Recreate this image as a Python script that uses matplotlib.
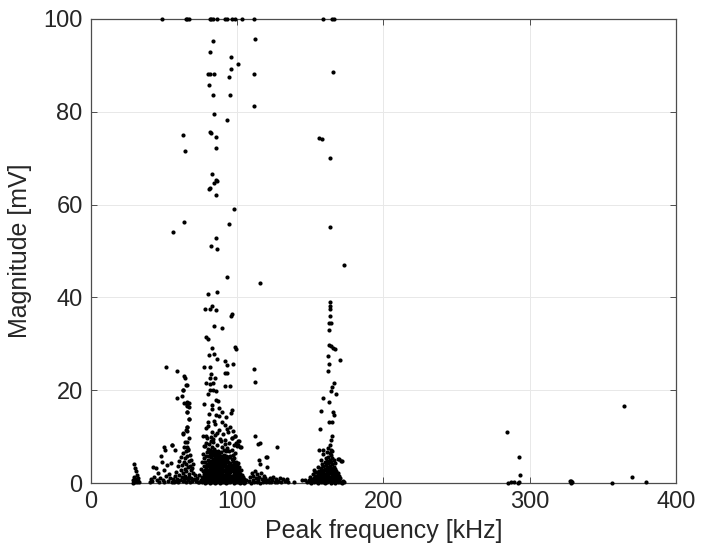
import matplotlib
matplotlib.use('Agg')
import matplotlib.pyplot as plt
import numpy as np

# figure parameters
FIG_SIZE = (7.03, 5.52)
LABEL_SIZE = 18
TICK_SIZE = 17
DOT_SIZE = 3.0

plt.rcParams['font.family'] = ['Liberation Sans', 'DejaVu Sans']

# peaks clipped at the 100 mV ceiling (frequency in kHz)
clipped_freq = [48.4, 64.8, 66.0, 67.2, 81.2, 82.4, 83.6, 86.3, 91.9, 93.2,
                96.6, 98.2, 103.2, 111.8, 159.0, 164.5, 166.0]
clipped_mag = [100.0] * len(clipped_freq)

# isolated peaks above the dense floor (freq kHz, magnitude mV)
upper_pts = [
    (112.4, 95.7), (81.2, 92.8), (83.6, 95.2), (95.5, 91.8), (100.6, 90.4),
    (95.5, 89.2), (80.0, 88.1), (81.2, 88.1), (84.2, 88.2), (94.2, 87.6),
    (111.5, 88.2), (165.5, 88.6), (80.6, 85.8), (83.3, 83.7), (94.8, 83.7),
    (111.5, 81.2), (84.2, 79.5), (93.3, 78.3), (63.0, 75.0), (81.2, 75.6),
    (82.4, 75.5), (85.5, 74.5), (155.8, 74.4), (158.2, 74.2), (85.2, 72.3),
    (64.2, 71.5), (163.3, 70.0), (82.7, 66.5), (80.6, 63.4), (81.2, 63.6),
    (84.2, 64.7), (85.5, 65.2), (86.0, 65.1), (85.2, 62.0), (97.9, 59.0),
    (63.9, 56.2), (94.5, 55.8), (56.4, 54.2), (163.3, 55.1), (85.5, 52.7),
    (81.8, 51.1), (86.0, 50.5), (172.7, 47.0), (93.3, 44.5), (115.8, 43.1),
    (80.0, 40.7), (86.0, 41.2), (163.3, 38.9), (163.6, 38.2), (163.6, 37.4),
    (83.0, 38.1), (78.2, 37.4), (81.2, 37.6), (85.5, 37.3), (96.4, 36.5),
    (95.5, 36.0), (163.6, 36.0), (84.2, 33.8), (89.4, 33.5), (163.0, 34.5),
    (164.2, 34.4), (163.0, 33.0), (78.8, 31.5), (80.0, 31.1), (98.8, 29.4),
    (99.4, 28.9), (163.0, 29.8), (164.2, 29.6), (165.5, 29.1), (166.7, 28.8),
    (83.0, 29.2), (84.2, 27.9), (80.9, 27.5), (86.0, 26.8), (170.6, 26.6),
    (162.4, 27.4), (91.8, 26.3), (92.7, 25.5), (97.0, 25.6), (51.2, 25.0),
    (77.0, 25.0), (81.5, 25.1), (111.5, 24.5), (163.0, 25.6), (59.1, 24.2),
    (162.4, 24.1), (63.6, 23.0), (91.8, 23.6), (93.3, 23.7), (82.4, 23.4),
    (81.2, 22.6), (84.8, 22.6), (78.8, 21.5), (81.2, 21.4), (83.6, 21.6),
    (65.2, 21.2), (112.1, 21.7), (166.0, 21.5), (91.8, 21.0), (94.8, 20.9),
    (164.5, 20.7), (63.0, 20.1), (81.2, 20.0), (83.6, 20.1), (85.5, 19.8),
    (163.9, 19.8), (167.3, 19.2), (159.0, 18.4), (58.5, 18.3), (62.4, 18.8),
    (79.7, 19.2), (85.5, 17.9), (86.7, 17.7), (65.5, 17.5), (67.0, 17.3),
    (163.0, 17.5), (77.0, 17.1), (66.0, 16.5), (82.7, 16.9), (87.3, 16.2),
    (96.4, 15.8), (95.5, 15.0), (157.6, 15.6), (165.5, 15.4), (166.0, 14.6),
    (66.0, 15.4), (85.8, 14.6), (87.3, 14.4), (66.7, 13.9), (163.0, 13.1),
    (164.8, 13.1), (79.7, 13.1), (84.2, 13.4), (89.4, 13.1), (66.0, 12.0),
    (65.5, 11.2), (91.8, 12.4), (93.3, 11.6), (80.0, 12.2), (284.2, 11.0),
    (156.4, 11.6), (112.1, 10.1), (62.7, 10.7), (164.5, 10.1), (76.7, 10.2),
    (78.8, 10.1), (83.6, 9.5), (96.4, 9.7), (98.5, 10.1), (100.9, 9.0),
    (114.5, 8.4), (164.2, 9.2), (49.7, 7.7), (55.5, 8.2), (102.4, 7.7),
    (127.3, 7.7), (155.8, 7.1), (292.7, 5.5), (119.4, 5.7), (169.1, 5.2),
    (171.2, 4.8), (364.5, 16.5), (369.7, 1.2), (293.3, 1.8), (379.7, 0.2),
    (356.4, 0.1), (327.6, 0.5), (328.4, 0.4), (329.2, 0.3), (328.0, 0.1),
    (285.2, 0.0), (287.3, 0.2), (289.4, 0.2), (291.8, 0.1), (292.7, 0.2),
    (138.8, 0.3), (144.2, 0.6), (146.3, 0.6), (153.2, 2.4), (158.4, 7.1),
    (115.6, 8.6), (120.1, 5.7), (115.1, 5.0), (115.6, 4.2), (120.1, 3.5),
    (64.3, 22.6), (65.8, 21.1), (63.1, 20.0), (63.6, 17.2), (65.8, 16.8),
    (67.2, 16.4), (65.8, 15.4), (67.2, 13.7), (65.8, 12.1), (65.0, 11.4),
    (63.1, 10.6), (64.3, 8.9), (65.4, 7.8), (66.5, 7.1), (57.4, 7.1),
    (77.5, 8.0), (79.0, 11.9), (81.8, 9.9), (83.0, 11.0), (84.5, 12.8),
    (86.0, 10.8), (87.8, 11.5), (88.9, 9.0), (90.2, 10.6), (91.5, 9.3),
    (93.9, 10.9), (95.0, 12.1), (96.9, 11.3), (97.9, 8.1), (99.0, 8.7),
    (100.8, 8.1), (92.3, 14.3), (89.9, 15.3), (81.0, 14.8), (83.1, 16.0),
]

# floor cluster near 30 kHz and 40-55 kHz
low_pts = [
    (28.5, 0.1), (29.0, 0.6), (29.4, 1.2), (29.7, 4.0), (30.0, 0.3),
    (30.3, 3.3), (30.6, 2.5), (30.9, 0.8), (31.2, 1.7), (31.6, 0.2),
    (32.0, 1.0), (32.5, 0.4), (33.0, 0.2),
    (40.5, 0.2), (41.2, 0.9), (42.0, 0.4), (42.6, 3.5), (43.3, 1.3),
    (44.2, 3.3), (44.9, 0.6), (45.6, 2.2), (46.3, 0.3), (47.0, 1.0),
    (47.9, 5.8), (48.5, 4.6), (49.0, 0.7), (49.6, 2.7), (50.2, 0.2),
    (50.9, 7.1), (51.5, 1.5), (52.2, 3.9), (52.8, 0.5), (53.5, 2.0),
    (54.2, 1.0), (54.8, 4.3), (55.5, 8.2),
]

# floor cluster 55-73 kHz
mid_low_pts = [
    (55.2, 0.3), (56.0, 0.8), (56.8, 0.2), (57.5, 1.5), (57.9, 0.5),
    (58.3, 2.4), (58.8, 0.9), (59.2, 3.6), (59.6, 0.2), (60.1, 1.8),
    (60.5, 4.8), (60.9, 0.6), (61.3, 2.9), (61.7, 5.5), (62.0, 1.2),
    (62.3, 3.8), (62.6, 0.4), (62.9, 6.5), (63.1, 2.2), (63.4, 4.6),
    (63.6, 0.9), (63.9, 7.8), (64.1, 3.1), (64.3, 5.4), (64.5, 1.6),
    (64.7, 0.3), (64.9, 6.9), (65.1, 2.6), (65.3, 4.1), (65.5, 8.9),
    (65.7, 1.1), (65.9, 5.9), (66.1, 3.4), (66.3, 0.6), (66.5, 7.3),
    (66.7, 2.0), (66.9, 4.8), (67.1, 9.6), (67.3, 1.4), (67.5, 3.7),
    (67.7, 6.1), (67.9, 0.2), (68.1, 2.8), (68.4, 5.0), (68.7, 1.0),
    (69.0, 3.3), (69.3, 0.5), (69.7, 2.1), (70.1, 4.2), (70.5, 0.8),
    (71.0, 1.7), (71.6, 0.4), (72.3, 1.1), (73.0, 0.3),
]

# dense floor cluster 74-106 kHz: frequency -> magnitudes
main_cols = {
    74.2: [0.3, 1.8],
    75.0: [0.7, 3.1],
    75.8: [0.2, 1.4, 4.6],
    76.5: [0.9, 2.5, 6.2],
    77.2: [0.4, 1.9, 3.7, 5.3],
    77.9: [0.1, 1.2, 2.8, 4.5, 7.9],
    78.6: [0.6, 2.2, 3.4, 5.8, 8.6],
    79.3: [0.2, 1.5, 2.9, 4.1, 6.6, 9.8],
    80.0: [0.8, 1.9, 3.6, 5.0, 7.3],
    80.7: [0.4, 1.3, 2.6, 4.4, 5.9, 8.4],
    81.4: [0.1, 1.0, 2.1, 3.3, 4.8, 6.4, 7.1],
    82.1: [0.5, 1.6, 2.7, 3.9, 5.5, 6.9, 9.1],
    82.8: [0.2, 1.2, 2.3, 3.5, 4.6, 6.0, 7.7],
    83.5: [0.7, 1.8, 3.0, 4.2, 5.2, 6.7, 8.8],
    84.2: [0.3, 1.4, 2.5, 3.7, 4.9, 6.2, 7.4],
    84.9: [0.1, 1.1, 2.0, 3.2, 4.4, 5.6, 6.9, 10.3],
    85.6: [0.6, 1.7, 2.8, 3.9, 5.1, 6.5],
    86.3: [0.2, 1.3, 2.4, 3.4, 4.7, 5.8, 8.1],
    87.0: [0.8, 1.9, 3.1, 4.1, 5.4, 7.0],
    87.7: [0.4, 1.5, 2.6, 3.6, 4.9, 6.3],
    88.4: [0.1, 1.0, 2.2, 3.3, 4.5, 5.7, 9.4],
    89.1: [0.5, 1.6, 2.8, 3.8, 5.0, 6.6],
    89.8: [0.3, 1.2, 2.3, 3.5, 4.3, 5.9, 7.8],
    90.5: [0.7, 1.8, 2.9, 4.0, 5.2],
    91.2: [0.2, 1.4, 2.5, 3.6, 4.8, 6.1, 7.2],
    91.9: [0.6, 1.7, 2.7, 3.9, 5.4, 8.3],
    92.6: [0.1, 1.1, 2.2, 3.3, 4.5, 5.8, 6.9],
    93.3: [0.5, 1.5, 2.6, 3.7, 4.9, 7.5],
    94.0: [0.3, 1.3, 2.4, 3.4, 4.6, 5.5],
    94.7: [0.8, 1.9, 3.0, 4.2, 5.6, 6.8, 8.6],
    95.4: [0.2, 1.2, 2.3, 3.5, 4.4, 5.9],
    96.1: [0.6, 1.6, 2.7, 3.8, 5.1, 7.1, 9.7],
    96.8: [0.4, 1.4, 2.5, 3.2, 4.7, 6.0],
    97.5: [0.1, 1.0, 2.0, 3.0, 4.0, 5.3],
    98.2: [0.5, 1.7, 2.8, 3.6, 6.4, 10.1],
    98.9: [0.3, 1.2, 2.2, 3.3, 4.6],
    99.6: [0.7, 1.8, 2.6, 3.9, 7.9],
    100.3: [0.2, 1.3, 2.1, 3.0, 4.4, 9.0],
    101.0: [0.6, 1.5, 2.4, 3.4],
    101.7: [0.1, 1.0, 2.0, 7.7],
    102.4: [0.4, 1.4, 2.7],
    103.1: [0.2, 0.9, 1.8],
    103.8: [0.5, 1.3],
    104.5: [0.1, 0.8],
    105.3: [0.3],
    106.2: [0.6],
}

# floor cluster 108-135 kHz
side_pts = [
    (108.0, 0.4), (108.7, 1.2), (109.3, 0.1), (109.9, 2.1), (110.5, 0.7),
    (111.1, 1.6), (111.6, 0.3), (112.2, 2.6), (112.7, 1.0), (113.3, 0.2),
    (113.8, 1.9), (114.4, 0.6), (115.0, 1.3), (115.6, 0.1), (116.2, 2.2),
    (116.8, 0.8), (117.4, 0.3), (118.0, 1.5), (118.7, 0.5), (119.3, 1.0),
    (120.0, 0.2), (120.8, 0.7), (121.6, 0.3), (122.4, 1.1), (123.2, 0.2),
    (124.0, 0.6), (124.8, 1.2), (125.6, 0.3), (126.4, 0.8), (127.3, 0.2),
    (128.1, 0.5), (129.0, 1.0), (130.0, 0.3), (131.2, 0.8), (132.5, 0.4),
    (133.8, 0.9), (134.5, 0.2),
]

# dense floor cluster 148-174 kHz: frequency -> magnitudes
high_cols = {
    148.0: [0.2], 148.9: [0.7], 149.8: [0.3, 1.4], 150.7: [0.1, 0.9],
    151.6: [0.5, 2.0], 152.5: [0.2, 1.1, 2.8], 153.4: [0.6, 1.6],
    154.3: [0.3, 1.2, 2.3], 155.2: [0.1, 0.8, 1.9, 3.4],
    156.1: [0.5, 1.5, 2.6], 157.0: [0.2, 1.0, 2.1, 3.2, 5.0],
    157.9: [0.7, 1.7, 2.9, 4.1], 158.8: [0.3, 1.3, 2.4, 3.6, 6.2],
    159.7: [0.1, 0.9, 2.0, 3.0, 4.5], 160.6: [0.6, 1.6, 2.7, 3.9, 5.3],
    161.5: [0.2, 1.2, 2.3, 3.4, 4.8, 6.6],
    162.4: [0.8, 1.9, 3.1, 4.3, 5.7, 7.5],
    163.3: [0.4, 1.4, 2.5, 3.7, 5.0, 6.4, 8.2],
    164.2: [0.1, 1.0, 2.2, 3.3, 4.6, 6.0, 7.1],
    165.1: [0.6, 1.7, 2.8, 4.0, 5.4, 6.8],
    166.0: [0.3, 1.3, 2.4, 3.5, 4.9], 166.9: [0.1, 0.9, 2.0, 3.1, 4.4],
    167.8: [0.5, 1.5, 2.6], 168.7: [0.2, 1.1, 2.1],
    169.6: [0.7, 1.6, 5.2], 170.5: [0.3, 1.0], 171.4: [0.1, 4.8],
    172.3: [0.4], 173.2: [0.2],
}


def cols_to_pts(cols):
    return [(f, m) for f, mags in cols.items() for m in mags]


def draw_peak_scatter():
    pts = upper_pts + low_pts + mid_low_pts + side_pts + cols_to_pts(main_cols) + cols_to_pts(high_cols)
    freq = np.array([p[0] for p in pts] + clipped_freq)
    mag = np.array([p[1] for p in pts] + clipped_mag)

    fig = plt.figure(figsize=FIG_SIZE, dpi=100)
    ax = fig.add_axes([0.1294, 0.125, 0.8321, 0.8406])

    ax.plot(freq, mag, 'o', color='black', markersize=DOT_SIZE, markeredgewidth=0,
            clip_on=False, zorder=3)

    ax.set_xlim(0, 400)
    ax.set_ylim(0, 100)
    ax.set_xticks([0, 100, 200, 300, 400])
    ax.set_yticks([0, 20, 40, 60, 80, 100])
    ax.grid(True, color='#e8e8e8', linewidth=0.7)
    ax.set_axisbelow(True)

    for side in ax.spines.values():
        side.set_color('#4d4d4d')
        side.set_linewidth(0.9)
    ax.tick_params(direction='in', top=True, right=True, length=4, width=0.7,
                   colors='#4d4d4d', labelcolor='#262626', labelsize=TICK_SIZE, pad=6)

    ax.set_xlabel('Peak frequency [kHz]', fontsize=LABEL_SIZE, color='#262626', labelpad=4)
    ax.set_ylabel('Magnitude [mV]', fontsize=LABEL_SIZE, color='#262626', labelpad=8)

    fig.savefig('out.png', dpi=100)


if __name__ == '__main__':
    draw_peak_scatter()
